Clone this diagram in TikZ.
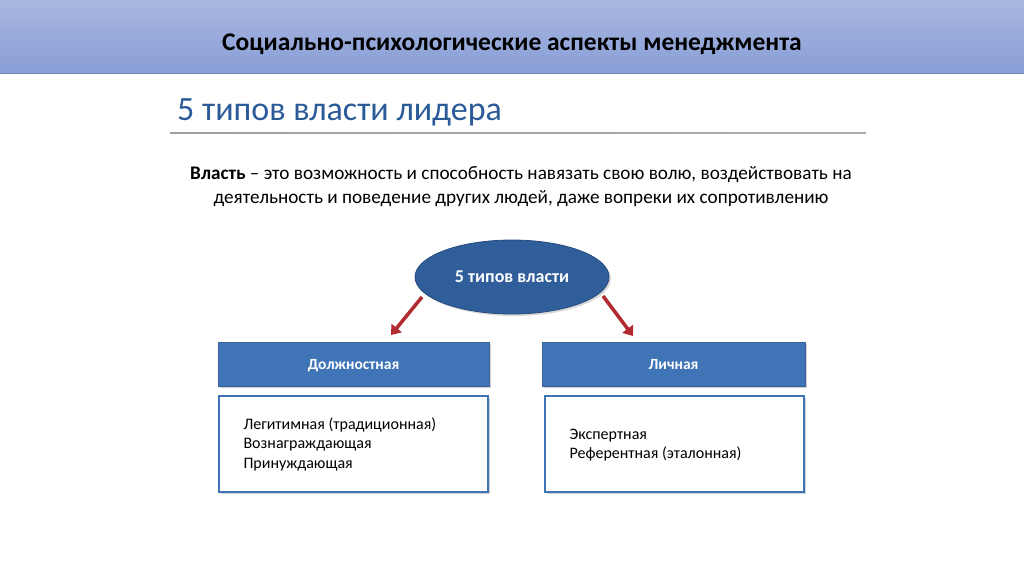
\documentclass[tikz,border=0pt]{standalone}
\usepackage{fontspec}
\setmainfont{Carlito}
\usepackage{tikz}
\usetikzlibrary{arrows.meta, positioning, shapes.geometric, shadows}
\definecolor{bandtop}{HTML}{A9B7E0}
\definecolor{bandbot}{HTML}{889ED6}
\definecolor{ttlblue}{HTML}{2A5A98}
\definecolor{ovalblue}{HTML}{2F5E9B}
\definecolor{boxblue}{HTML}{3F74B6}
\definecolor{arrred}{HTML}{B02A30}

\tikzset{
  headbox/.style={draw=boxblue!85!black, line width=0.6pt, fill=boxblue, text=white,
    font=\fontsize{15.5}{18}\selectfont\bfseries, minimum height=44pt,
    text height=2.3ex, text depth=0.2ex,
    drop shadow={opacity=0.35, shadow xshift=2pt, shadow yshift=-2pt}},
  listbox/.style={draw=boxblue, line width=2.5pt, fill=white, minimum height=96pt,
    drop shadow={opacity=0.35, shadow xshift=2pt, shadow yshift=-2pt}},
  listtext/.style={font=\fontsize{16}{19.5}\selectfont, align=left, anchor=west},
  powerarrow/.style={draw=arrred, line width=3.5pt, -{Triangle[length=9pt, width=13pt]}}
}

\begin{document}
\begin{tikzpicture}[x=1pt, y=-1pt]
\useasboundingbox (0,0) rectangle (1024,574);
\fill[white] (0,0) rectangle (1024,574);
% header band
\shade[top color=bandtop, bottom color=bandbot] (0,0) rectangle (1024,73);
\draw[bandbot!85!black, line width=1pt] (0,73) -- (1024,73);
\node[font=\fontsize{25.5}{30}\selectfont\bfseries] (title) at (512,44)
  {Социально-психологические аспекты менеджмента};
% subtitle
\node[font=\fontsize{34}{40}\selectfont, text=ttlblue, anchor=west, inner sep=0pt] (subtitle)
  at (177,112) {5 типов власти лидера};
\shade[left color=gray!75, right color=gray!65] (170,132) rectangle (866,133.5);
% definition
\node[font=\fontsize{19.2}{24}\selectfont, align=center] (defn) at (521,187)
  {\textbf{Власть} -- это возможность и способность навязать свою волю, воздействовать на\\
   деятельность и поведение других людей, даже вопреки их сопротивлению};
% oval
\node[ellipse, draw=ovalblue!80!black, line width=0.8pt, fill=ovalblue, text=white,
  minimum width=194pt, minimum height=74pt, font=\fontsize{18}{21}\selectfont\bfseries,
  drop shadow={opacity=0.3, shadow xshift=2pt, shadow yshift=-2pt}] (types) at (512,277)
  {5 типов власти};
% two branches
\node[headbox, minimum width=271pt] (pos) at (353.5,364) {Должностная};
\node[headbox, minimum width=263pt] (pers) at (673.5,364) {Личная};
\node[listbox, minimum width=269pt] (poslist) at (353.5,444) {};
\node[listbox, minimum width=259pt] (perslist) at (674.5,444) {};
\node[listtext] (postext) at (240,444)
  {Легитимная (традиционная)\\Вознаграждающая\\Принуждающая};
\node[listtext] (perstext) at (566,445)
  {Экспертная\\Референтная (эталонная)};
% arrows
\coordinate (ls) at (422,297);
\coordinate (rs) at (603,296);
\coordinate (la) at (391,335);
\coordinate (ra) at (633,336);
\draw[powerarrow] (ls) -- (la);
\draw[powerarrow] (rs) -- (ra);
\end{tikzpicture}
\end{document}
